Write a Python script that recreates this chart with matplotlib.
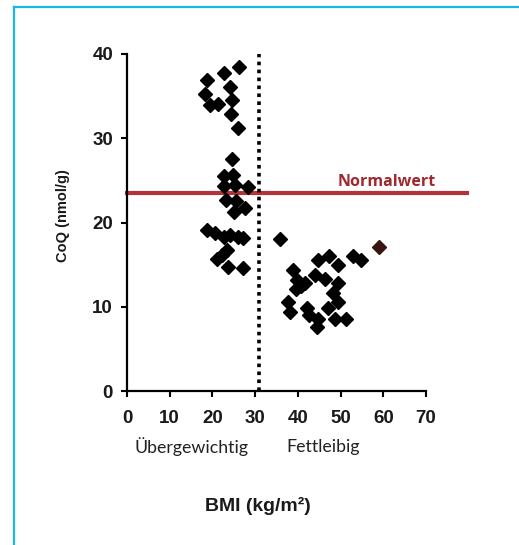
import matplotlib
matplotlib.use("Agg")
import matplotlib.pyplot as plt
from matplotlib.lines import Line2D

# Data (BMI kg/m², CoQ nmol/g)
bmi_over = [26.3, 22.6, 18.7, 24.1, 18.3, 19.4, 21.4, 24.5, 24.3, 26.1,
            24.5, 22.8, 24.8, 22.6, 25.3, 28.4, 23.2, 25.5, 27.6, 25.1,
            18.7, 20.6, 22.6, 24.1, 26.1, 27.2, 23.3, 22.2, 21.0, 23.7, 27.2]
coq_over = [38.4, 37.7, 36.9, 36.1, 35.3, 33.9, 34.1, 34.5, 32.9, 31.2,
            27.5, 25.5, 25.6, 24.3, 24.4, 24.2, 22.7, 22.6, 21.7, 21.3,
            19.1, 18.7, 18.3, 18.5, 18.3, 18.2, 16.7, 16.1, 15.7, 14.7, 14.6]

bmi_obese = [35.8, 44.8, 47.3, 53.0, 54.8, 49.3, 38.9, 44.0, 46.4, 39.7,
             41.7, 49.5, 39.5, 48.3, 49.3, 37.8, 38.2, 42.1, 42.5, 47.0,
             44.7, 44.4, 48.7, 51.2, 40.7]
coq_obese = [18.1, 15.6, 16.0, 16.0, 15.5, 14.9, 14.4, 13.8, 13.3, 13.2,
             12.8, 12.8, 12.1, 11.6, 10.6, 10.6, 9.4, 9.8, 9.0, 9.8,
             8.6, 7.6, 8.5, 8.5, 12.5]

bmi_outlier = [59.0]
coq_outlier = [17.1]

normal_value = 23.5
bmi_cutoff = 31.0
x_ticks = [0, 10, 20, 30, 40, 50, 60, 70]
y_ticks = [0, 10, 20, 30, 40]

W, H = 519, 545
fig = plt.figure(figsize=(W / 100, H / 100), dpi=100)
fig.patch.set_facecolor("white")

ax = fig.add_axes([127 / W, 1 - 391 / H, (426 - 127) / W, (391 - 54) / H])
ax.set_xlim(0, 70)
ax.set_ylim(0, 40)

for s in ["top", "right"]:
    ax.spines[s].set_visible(False)
for s in ["left", "bottom"]:
    ax.spines[s].set_linewidth(1.6)
    ax.spines[s].set_color("black")

ax.set_xticks(x_ticks)
ax.set_yticks(y_ticks)
ax.tick_params(direction="out", length=4, width=1.5, labelsize=13.5)
ax.tick_params(axis="x", pad=10)
ax.tick_params(axis="y", pad=6)
for lab in ax.get_xticklabels() + ax.get_yticklabels():
    lab.set_fontfamily("Liberation Sans")
    lab.set_fontweight("bold")
    lab.set_color("#1a1a1a")

# reference lines
ax.plot([bmi_cutoff, bmi_cutoff], [0, 40], color="black", linestyle=(0, (1, 1.2)),
        linewidth=2.6, zorder=2)
ax.plot([0, 79.5], [normal_value, normal_value], color="#b0343a", linewidth=3,
        clip_on=False, zorder=1)
ax.text(72.3, normal_value + 0.4, "Normalwert", color="#a0282e", fontsize=11.5,
        fontweight="bold", family="Open Sans", ha="right", va="bottom")

# data
ax.plot(bmi_over, coq_over, "D", color="black", markersize=6.8, zorder=3)
ax.plot(bmi_obese, coq_obese, "D", color="black", markersize=6.8, zorder=3)
ax.plot(bmi_outlier, coq_outlier, "D", color="#3a1410", markersize=6.8, zorder=3)

# labels
fig.text(192 / W, 1 - 447 / H, "Übergewichtig", ha="center", va="center",
         fontsize=12.8, family="Lato", color="#222222")
fig.text(323 / W, 1 - 447 / H, "Fettleibig", ha="center", va="center",
         fontsize=12.8, family="Lato", color="#222222")
fig.text(258 / W, 1 - 506 / H, "BMI (kg/m²)", ha="center", va="center",
         fontsize=14, fontweight="bold", family="Liberation Sans", color="#1a1a1a")
fig.text(63 / W, 1 - 216 / H, "CoQ (nmol/g)", ha="center", va="center",
         rotation=90, fontsize=10.5, fontweight="bold", family="Liberation Sans",
         color="#1a1a1a")

# blue frame (top and left edges)
fig.add_artist(Line2D([14 / W, 1.0], [1 - 7 / H, 1 - 7 / H], color="#1ab4ea",
                      linewidth=1.6, transform=fig.transFigure))
fig.add_artist(Line2D([14 / W, 14 / W], [0, 1 - 7 / H], color="#1ab4ea",
                      linewidth=1.6, transform=fig.transFigure))

fig.savefig("out.png", dpi=100, facecolor="white")
